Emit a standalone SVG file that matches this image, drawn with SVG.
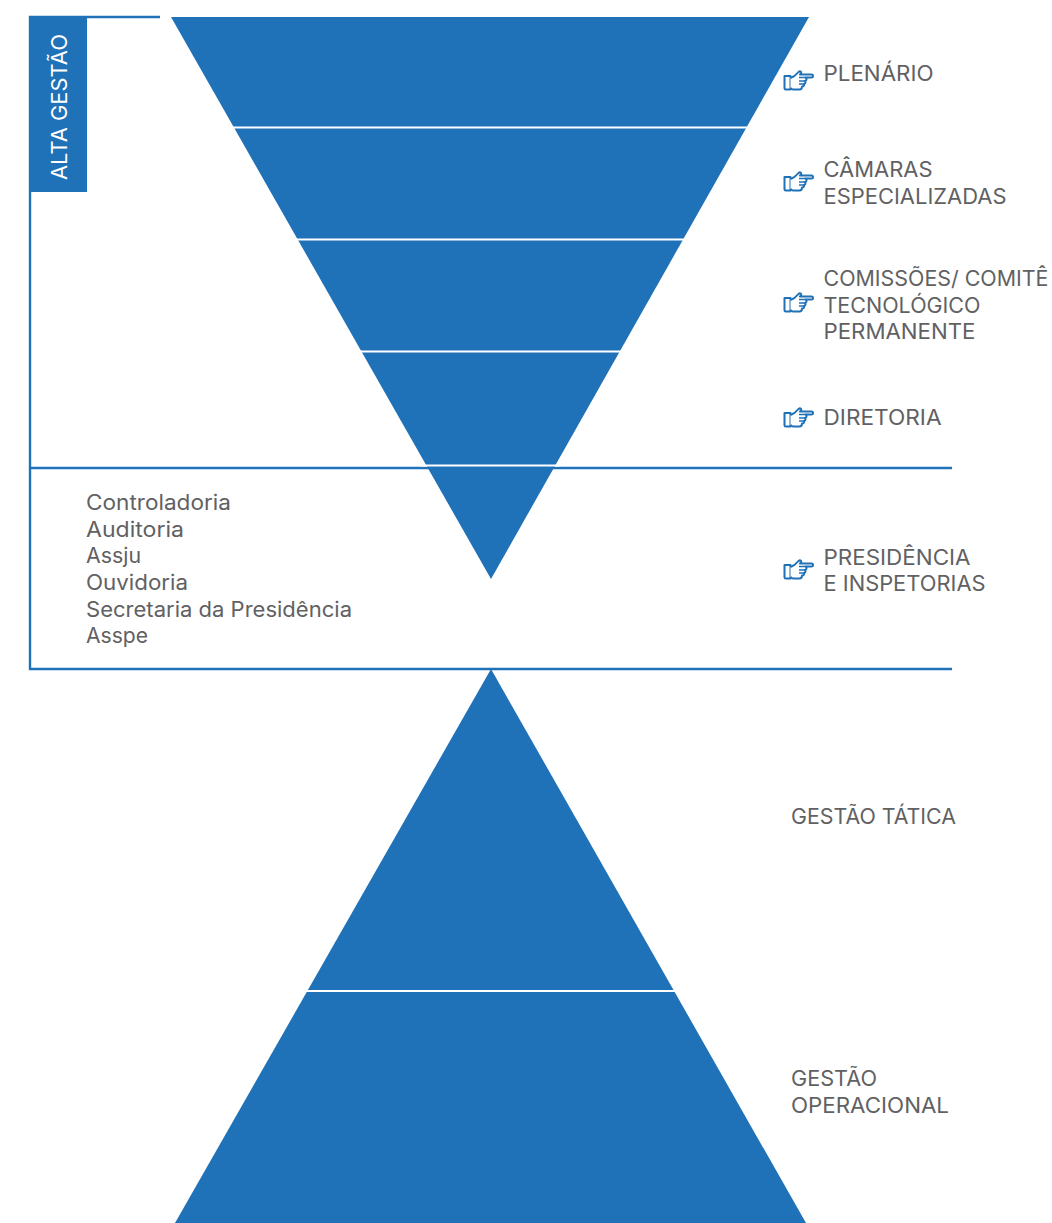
<svg xmlns="http://www.w3.org/2000/svg" width="1052" height="1223" viewBox="0 0 1052 1223">
<defs>
<style>
.f{fill:#1f71b8}
.sep{stroke:#fff;stroke-width:2;fill:none}
.ln{stroke:#1f71b8;stroke-width:2.4;fill:none}
text{font-family:"Inter","Open Sans","Liberation Sans",sans-serif;font-size:21px;fill:#616163}
</style>
<g id="hand">
<path d="M1.500 8H7.500V21.500H3C2 21.500 1.500 21 1.500 20Z" fill="#fff" stroke="#1f71b8" stroke-width="2" stroke-linejoin="round"/>
<path d="M7.500 10C11 9 13 7 15 4.500C16.500 2.500 19 3.500 18 5.500L17 6.500H28.500C30.500 6.500 30.500 9.500 28.500 9.500H22.500C24 10 24 12.500 22 13C23 14 22.500 15.500 21 16C21.500 17.500 20.500 18.500 19 18.500C19 20.500 18 21.500 16.500 21.500H10C9 21.500 8 20.500 7.500 20" fill="#fff" stroke="#1f71b8" stroke-width="2" stroke-linejoin="round"/>
<path d="M16 9.500H22.500M16 13H22M16 16H21" fill="none" stroke="#1f71b8" stroke-width="1.300"/>
</g>
</defs>
<rect width="1052" height="1223" fill="#fff"/>
<g id="connectors">
<path class="ln" d="M160 17H30V669H952"/>
<path class="ln" d="M30 468H952"/>
</g>
<g id="alta-gestao">
<rect class="f" x="30" y="17" width="57" height="175"/>
<text transform="translate(67 180) rotate(-90)" textLength="146" lengthAdjust="spacingAndGlyphs" style="fill:#fff">ALTA GESTÃO</text>
</g>
<g id="piramide-invertida">
<path class="f" d="M171 17H809L491 579Z"/>
<path class="sep" d="M228 127.500H752M292 239.500H688M356 351.500H624M420 465.500H560"/>
</g>
<g id="piramide">
<path class="f" d="M491 669L806 1223H175Z"/>
<path class="sep" d="M300 991H680"/>
</g>
<g id="plenario"><use href="#hand" x="783" y="68"/><text x="823.500" y="81" textLength="110" lengthAdjust="spacingAndGlyphs">PLENÁRIO</text></g>
<g id="camaras"><use href="#hand" x="783" y="169"/><text x="823.500" y="177" textLength="109" lengthAdjust="spacingAndGlyphs">CÂMARAS</text><text x="823.500" y="204" textLength="183" lengthAdjust="spacingAndGlyphs">ESPECIALIZADAS</text></g>
<g id="comissoes"><use href="#hand" x="783" y="290"/><text x="823.500" y="286" textLength="225" lengthAdjust="spacingAndGlyphs">COMISSÕES/ COMITÊ</text><text x="823.500" y="313" textLength="157" lengthAdjust="spacingAndGlyphs">TECNOLÓGICO</text><text x="823.500" y="339" textLength="152" lengthAdjust="spacingAndGlyphs">PERMANENTE</text></g>
<g id="diretoria"><use href="#hand" x="783" y="405"/><text x="823.500" y="425" textLength="118" lengthAdjust="spacingAndGlyphs">DIRETORIA</text></g>
<g id="presidencia"><use href="#hand" x="783" y="557"/><text x="823.500" y="565" textLength="147" lengthAdjust="spacingAndGlyphs">PRESIDÊNCIA</text><text x="823.500" y="591" textLength="162" lengthAdjust="spacingAndGlyphs">E INSPETORIAS</text></g>
<g id="unidades">
<text x="86" y="510" textLength="145" lengthAdjust="spacingAndGlyphs">Controladoria</text>
<text x="86" y="537" textLength="98" lengthAdjust="spacingAndGlyphs">Auditoria</text>
<text x="86" y="563" textLength="55" lengthAdjust="spacingAndGlyphs">Assju</text>
<text x="86" y="590" textLength="102" lengthAdjust="spacingAndGlyphs">Ouvidoria</text>
<text x="86" y="617" textLength="266" lengthAdjust="spacingAndGlyphs">Secretaria da Presidência</text>
<text x="86" y="643" textLength="62" lengthAdjust="spacingAndGlyphs">Asspe</text>
</g>
<g id="gestao-tatica"><text x="791" y="824" textLength="165" lengthAdjust="spacingAndGlyphs">GESTÃO TÁTICA</text></g>
<g id="gestao-operacional"><text x="791" y="1086" textLength="86" lengthAdjust="spacingAndGlyphs">GESTÃO</text><text x="791" y="1113" textLength="158" lengthAdjust="spacingAndGlyphs">OPERACIONAL</text></g>
</svg>
